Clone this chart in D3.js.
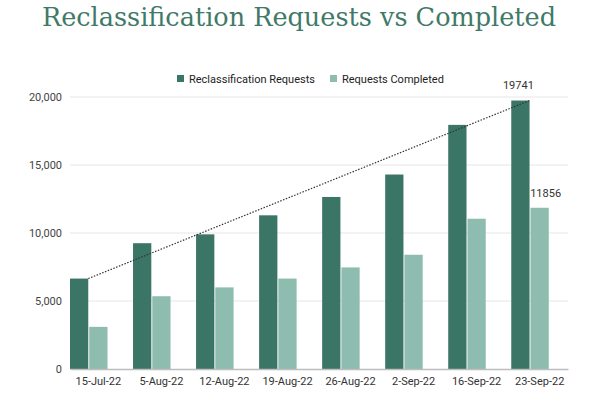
<!DOCTYPE html>
<html>
<head>
<meta charset="utf-8">
<script src="https://cdn.jsdelivr.net/npm/d3@7"></script>
<style>
  body { margin: 0; background: #fff; }
  text { font-family: Roboto, "Noto Sans", sans-serif; }
</style>
</head>
<body>
<svg id="chart"></svg>
<script>
// data
const weeks = ["15-Jul-22", "5-Aug-22", "12-Aug-22", "19-Aug-22", "26-Aug-22", "2-Sep-22", "16-Sep-22", "23-Sep-22"];
const requests = [6650, 9250, 9900, 11300, 12650, 14300, 17950, 19741];
const completed = [3100, 5350, 6000, 6650, 7470, 8400, 11050, 11856];
const yTicks = [0, 5000, 10000, 15000, 20000];
const seriesNames = ["Reclassification Requests", "Requests Completed"];

const width = 602, height = 393;
const margin = { top: 97, right: 34, bottom: 24, left: 70 };
const darkColor = "#3b7566";
const lightColor = "#8ebcaf";

const svg = d3.select("#chart")
  .attr("width", width)
  .attr("height", height);

// title
svg.append("text")
  .attr("x", 42)
  .attr("y", 26)
  .attr("fill", "#3f7a69")
  .style("font-family", "'DejaVu Serif', serif")
  .style("font-size", "26px")
  .attr("textLength", 514)
  .attr("lengthAdjust", "spacingAndGlyphs")
  .text("Reclassification Requests vs Completed");

// scales
const x = d3.scaleBand()
  .domain(weeks)
  .range([margin.left, width - margin.right])
  .paddingInner(0.1)
  .paddingOuter(0);

// three slots per group, the third one stays empty (that is how the labels sit)
const xSub = d3.scaleBand()
  .domain([0, 1, 2])
  .range([0, x.bandwidth()])
  .paddingInner(0.05);

const y = d3.scaleLinear()
  .domain([0, 20000])
  .range([height - margin.bottom, margin.top]);

// gridlines
svg.append("g")
  .selectAll("line")
  .data(yTicks.filter(d => d > 0))
  .enter()
  .append("line")
  .attr("x1", margin.left)
  .attr("x2", width - margin.right)
  .attr("y1", d => y(d))
  .attr("y2", d => y(d))
  .attr("stroke", "#e6e6e6")
  .attr("stroke-width", 1);

// y axis labels
const yAxis = d3.axisLeft(y)
  .tickValues(yTicks)
  .tickSize(0)
  .tickPadding(8)
  .tickFormat(d3.format(","));

svg.append("g")
  .attr("transform", `translate(${margin.left},0)`)
  .call(yAxis)
  .call(g => g.select(".domain").remove())
  .selectAll("text")
  .style("font-size", "11px")
  .style("font-family", "Roboto, sans-serif")
  .attr("fill", "#444");

// bars
const groups = svg.append("g")
  .selectAll("g")
  .data(weeks)
  .enter()
  .append("g")
  .attr("transform", d => `translate(${x(d)},0)`);

groups.append("rect")
  .attr("x", xSub(0))
  .attr("y", (d, i) => y(requests[i]))
  .attr("width", xSub.bandwidth())
  .attr("height", (d, i) => y(0) - y(requests[i]))
  .attr("fill", darkColor);

groups.append("rect")
  .attr("x", xSub(1))
  .attr("y", (d, i) => y(completed[i]))
  .attr("width", xSub.bandwidth())
  .attr("height", (d, i) => y(0) - y(completed[i]))
  .attr("fill", lightColor);

// x axis
const xAxis = d3.axisBottom(x).tickSize(0).tickPadding(8);
svg.append("g")
  .attr("transform", `translate(0,${y(0)})`)
  .call(xAxis)
  .call(g => g.select(".domain").attr("stroke", "#bdbdbd").attr("stroke-width", 1.5))
  .selectAll("text")
  .style("font-size", "11px")
  .style("font-family", "Roboto, sans-serif")
  .attr("fill", "#333");

// dotted trend line, first to last request bar
const last = weeks.length - 1;
svg.append("line")
  .attr("x1", x(weeks[0]) + xSub(0) + xSub.bandwidth())
  .attr("y1", y(requests[0]))
  .attr("x2", x(weeks[last]) + xSub(0) + xSub.bandwidth())
  .attr("y2", y(requests[last]))
  .attr("stroke", "#333")
  .attr("stroke-width", 1.2)
  .attr("stroke-dasharray", "1.5,1.5");

// value labels on the last group
svg.append("text")
  .attr("x", x(weeks[last]) + xSub(0) + xSub.bandwidth() / 2 - 2)
  .attr("y", y(requests[last]) - 12)
  .attr("text-anchor", "middle")
  .attr("fill", "#333")
  .style("font-size", "11px")
  .text(requests[last]);

svg.append("text")
  .attr("x", x(weeks[last]) + xSub(1) + xSub.bandwidth() / 2 + 6)
  .attr("y", y(completed[last]) - 11)
  .attr("text-anchor", "middle")
  .attr("fill", "#333")
  .style("font-size", "11px")
  .text(completed[last]);

// legend
const legendX = [177, 330];
const legend = svg.append("g")
  .selectAll("g")
  .data(seriesNames)
  .enter()
  .append("g")
  .attr("transform", (d, i) => `translate(${legendX[i]},79)`);

legend.append("rect")
  .attr("x", 0)
  .attr("y", -4)
  .attr("width", 7)
  .attr("height", 7)
  .attr("fill", (d, i) => i === 0 ? darkColor : lightColor);

legend.append("text")
  .attr("x", 12)
  .attr("y", 4)
  .attr("fill", "#222")
  .style("font-size", "11px")
  .text(d => d);
</script>
</body>
</html>
